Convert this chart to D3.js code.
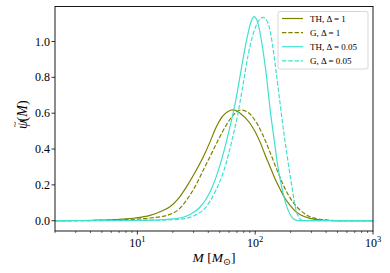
<!DOCTYPE html>
<html>
<head>
<meta charset="utf-8">
<script src="https://cdn.jsdelivr.net/npm/d3@7"></script>
<style>
  body { margin: 0; background: #fff; }
  text { font-family: "Liberation Serif", "DejaVu Serif", serif; }
</style>
</head>
<body>
<svg id="chart" width="390" height="273"></svg>
<script>
// values
var thM1 = [2, 3.26, 4.82, 7.12, 9.55, 12.8, 15.6, 18.9, 22.1, 26.2, 30.9, 36.3, 41.4, 46.5, 52.3, 58.9, 64.9, 74.4, 90.4, 110, 121, 134, 147, 163, 179, 198, 218, 240, 292, 356, 432, 525, 1000];
var thPsi1 = [0, 0.001, 0.003, 0.008, 0.015, 0.03, 0.05, 0.078, 0.12, 0.19, 0.27, 0.357, 0.44, 0.52, 0.58, 0.61, 0.618, 0.60, 0.544, 0.44, 0.37, 0.30, 0.235, 0.175, 0.125, 0.085, 0.055, 0.035, 0.013, 0.004, 0.001, 0, 0];

var gM1 = [2, 3.97, 5.86, 8.66, 12.8, 18.9, 23.0, 26.2, 30.9, 36.3, 43.0, 50.3, 58.9, 67.5, 75.9, 86.9, 99.7, 114, 134, 156, 179, 206, 240, 292, 356, 432, 525, 1000];
var gPsi1 = [0, 0.001, 0.003, 0.007, 0.015, 0.035, 0.07, 0.116, 0.19, 0.283, 0.38, 0.47, 0.55, 0.60, 0.618, 0.605, 0.56, 0.49, 0.38, 0.27, 0.18, 0.11, 0.06, 0.022, 0.008, 0.002, 0, 0];

var thM005 = [2, 7.12, 12.8, 15.6, 18.9, 23.0, 28.0, 34.0, 41.4, 50.3, 58.9, 68.8, 77.3, 85.3, 92.2, 97.8, 105.7, 114, 124, 134, 145, 156, 169, 183, 198, 214, 231, 1000];
var thPsi005 = [0, 0.001, 0.003, 0.005, 0.009, 0.015, 0.035, 0.075, 0.16, 0.31, 0.48, 0.68, 0.87, 1.02, 1.11, 1.139, 1.10, 0.99, 0.82, 0.62, 0.45, 0.30, 0.18, 0.09, 0.035, 0.008, 0, 0];

var gM005 = [2, 8.66, 15.6, 22.1, 25.4, 30.9, 37.5, 45.6, 55.5, 63.6, 71.5, 78.9, 86.9, 95.9, 105.7, 117, 129, 139, 150, 163, 176, 190, 206, 222, 240, 255, 1000];
var gPsi005 = [0, 0.001, 0.003, 0.007, 0.012, 0.03, 0.07, 0.16, 0.30, 0.45, 0.60, 0.76, 0.92, 1.04, 1.11, 1.135, 1.10, 1.0, 0.84, 0.65, 0.48, 0.33, 0.18, 0.06, 0.01, 0, 0];

var yTicks = [0, 0.2, 0.4, 0.6, 0.8, 1.0];
var xMajor = [10, 100, 1000];
var seriesNames = ["TH, \u0394 = 1", "G, \u0394 = 1", "TH, \u0394 = 0.05", "G, \u0394 = 0.05"];

var series = [
  {name: seriesNames[0], M: thM1, psi: thPsi1, color: "#808000", dash: null},
  {name: seriesNames[1], M: gM1, psi: gPsi1, color: "#808000", dash: "4.4,1.9"},
  {name: seriesNames[2], M: thM005, psi: thPsi005, color: "#40e0d0", dash: null},
  {name: seriesNames[3], M: gM005, psi: gPsi005, color: "#40e0d0", dash: "4.4,1.9"}
];

var svg = d3.select("#chart");
var padL = 55, padR = 373, padT = 6.5, padB = 231;

var x = d3.scaleLog().domain([2, 1000]).range([padL, padR]);
var y = d3.scaleLinear().domain([-0.0575, 1.1955]).range([padB, padT]);

var plot = svg.append("g");
plot.append("clipPath").attr("id", "clip")
  .append("rect").attr("x", padL).attr("y", padT).attr("width", padR - padL).attr("height", padB - padT);

var line = d3.line()
  .x(function(d) { return x(d[0]); })
  .y(function(d) { return y(d[1]); })
  .curve(d3.curveMonotoneX);

series.forEach(function(s) {
  var pts = s.M.map(function(m, i) { return [m, s.psi[i]]; });
  plot.append("path")
    .attr("clip-path", "url(#clip)")
    .attr("d", line(pts))
    .attr("fill", "none")
    .attr("stroke", s.color)
    .attr("stroke-width", 1.2)
    .attr("stroke-dasharray", s.dash);
});

// x axis: minor ticks
var minor = [];
for (var dec = 1; dec <= 100; dec *= 10) {
  for (var k = 2; k <= 9; k++) {
    var v = k * dec;
    if (v >= 2 && v < 1000) minor.push(v);
  }
}
var xAxis = svg.append("g").attr("transform", "translate(0," + padB + ")");
xAxis.selectAll(".minor").data(minor).enter().append("line")
  .attr("x1", function(d) { return x(d); }).attr("x2", function(d) { return x(d); })
  .attr("y1", 0).attr("y2", 2)
  .attr("stroke", "#000").attr("stroke-width", 0.6);
xAxis.selectAll(".major").data(xMajor).enter().append("line")
  .attr("x1", function(d) { return x(d); }).attr("x2", function(d) { return x(d); })
  .attr("y1", 0).attr("y2", 3.5)
  .attr("stroke", "#000").attr("stroke-width", 0.8);
var xl = xAxis.selectAll(".lab").data(xMajor).enter().append("text")
  .attr("x", function(d) { return x(d); })
  .attr("y", 16)
  .attr("text-anchor", "middle")
  .attr("font-size", 12)
  .attr("fill", "#000");
xl.append("tspan").text("10");
xl.append("tspan").attr("dy", -5).attr("font-size", 8.5)
  .text(function(d) { return Math.round(Math.log10(d)); });

// y axis
var yAxis = svg.append("g").attr("transform", "translate(" + padL + ",0)");
yAxis.selectAll("line").data(yTicks).enter().append("line")
  .attr("x1", -3.5).attr("x2", 0)
  .attr("y1", function(d) { return y(d); }).attr("y2", function(d) { return y(d); })
  .attr("stroke", "#000").attr("stroke-width", 0.8);
yAxis.selectAll("text").data(yTicks).enter().append("text")
  .attr("x", -5)
  .attr("y", function(d) { return y(d) + 4; })
  .attr("text-anchor", "end")
  .attr("font-size", 12)
  .attr("fill", "#000")
  .text(function(d) { return d.toFixed(1); });

// frame
svg.append("rect")
  .attr("x", padL).attr("y", padT).attr("width", padR - padL).attr("height", padB - padT)
  .attr("fill", "none").attr("stroke", "#000").attr("stroke-width", 0.9);

// axis labels
var xlab = svg.append("text")
  .attr("x", (padL + padR) / 2).attr("y", 262)
  .attr("text-anchor", "middle").attr("font-size", 13.5).attr("fill", "#000");
xlab.append("tspan").attr("font-style", "italic").text("M");
xlab.append("tspan").text(" [");
xlab.append("tspan").attr("font-style", "italic").text("M");
xlab.append("tspan").attr("dy", 3).attr("font-size", 9.5).text("\u2299");
xlab.append("tspan").attr("dy", -3).text("]");

var ylab = svg.append("text")
  .attr("transform", "translate(27," + ((padT + padB) / 2 - 4) + ") rotate(-90)")
  .attr("text-anchor", "middle").attr("font-size", 14).attr("fill", "#000");
ylab.append("tspan").attr("font-style", "italic").text("\u03c8");
ylab.append("tspan").attr("dx", -7).attr("dy", -9).attr("font-size", 11).text("~");
ylab.append("tspan").attr("dy", 9).text("(");
ylab.append("tspan").attr("font-style", "italic").text("M");
ylab.append("tspan").text(")");

// legend
var lg = svg.append("g").attr("transform", "translate(278,11.5)");
lg.append("rect").attr("width", 90).attr("height", 57.5).attr("rx", 2)
  .attr("fill", "#fff").attr("fill-opacity", 0.8)
  .attr("stroke", "#ccc").attr("stroke-width", 0.8);
series.forEach(function(s, i) {
  var ry = 7 + i * 14.1;
  lg.append("line").attr("x1", 4).attr("x2", 25).attr("y1", ry).attr("y2", ry)
    .attr("stroke", s.color).attr("stroke-width", 1.2).attr("stroke-dasharray", s.dash);
  lg.append("text").attr("x", 32).attr("y", ry + 3.2)
    .attr("font-size", 9).attr("fill", "#000").text(s.name);
});
</script>
</body>
</html>
